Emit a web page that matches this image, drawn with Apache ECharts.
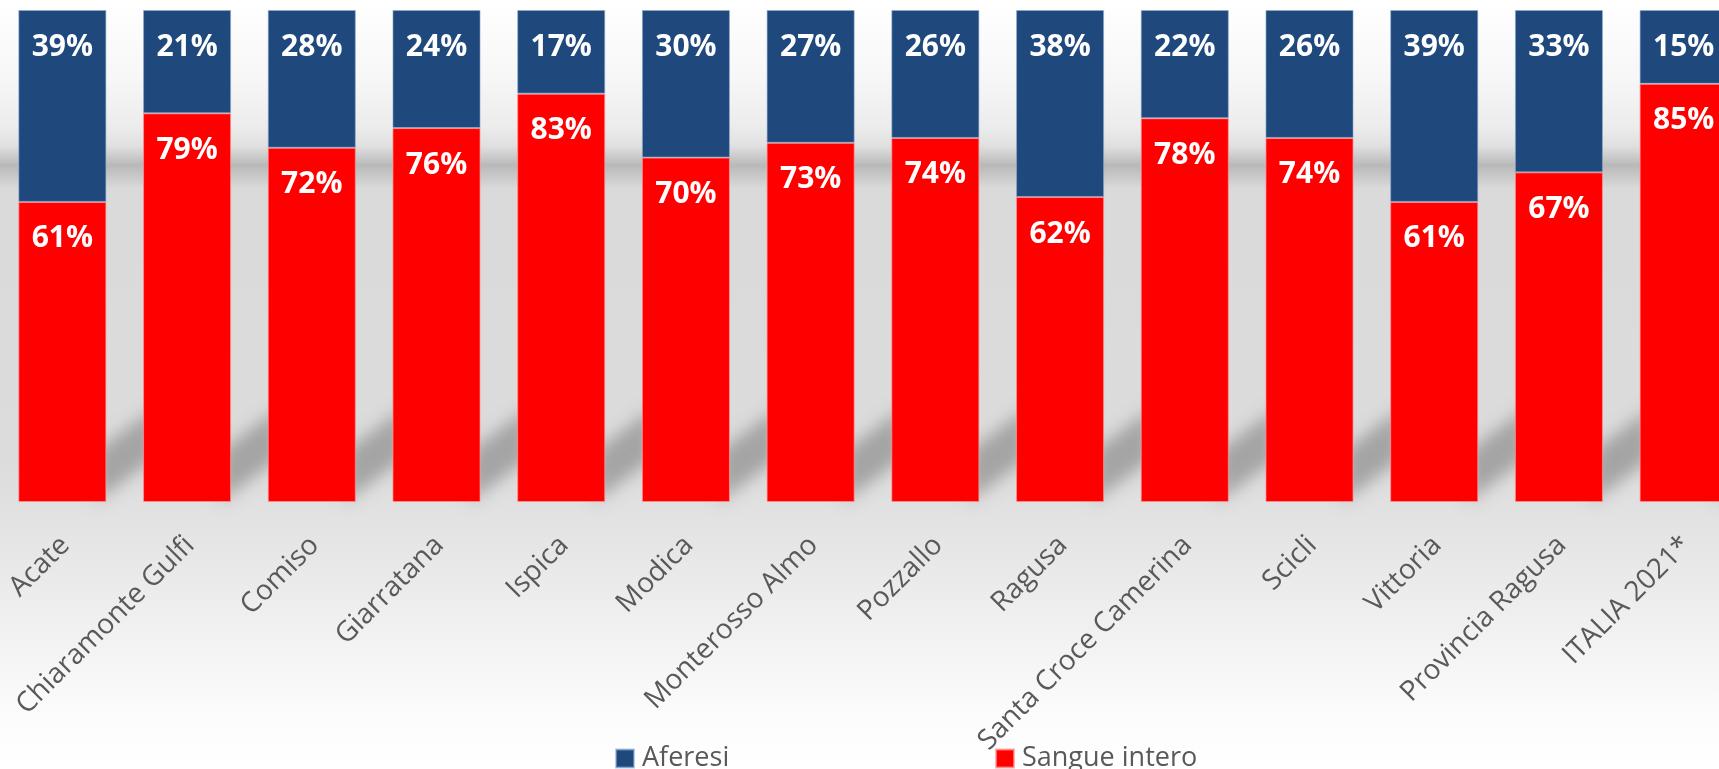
<!DOCTYPE html>
<html>
<head>
<meta charset="utf-8">
<script src="https://cdn.jsdelivr.net/npm/echarts@6/dist/echarts.min.js"></script>
<style>
  html, body { margin: 0; padding: 0; background: #fff; overflow: hidden; width: 1719px; height: 769px; }
  #chart { width: 1746px; height: 769px; }
</style>
</head>
<body>
<div id="chart"></div>
<script>
const categories = ['Acate', 'Chiaramonte Gulfi', 'Comiso', 'Giarratana', 'Ispica', 'Modica', 'Monterosso Almo', 'Pozzallo', 'Ragusa', 'Santa Croce Camerina', 'Scicli', 'Vittoria', 'Provincia Ragusa', 'ITALIA 2021*'];
const aferesi = [39, 21, 28, 24, 17, 30, 27, 26, 38, 22, 26, 39, 33, 15];
const sangueIntero = [61, 79, 72, 76, 83, 70, 73, 74, 62, 78, 74, 61, 67, 85];
const seriesNames = ['Aferesi', 'Sangue intero'];

const chart = echarts.init(document.getElementById('chart'), null, { renderer: 'canvas' });

const BAR_RATIO = 0.706;

const labelStyle = {
  show: true,
  position: 'insideTop',
  distance: 22,
  formatter: '{c}%',
  color: '#ffffff',
  fontFamily: 'Open Sans',
  fontWeight: 'bold',
  fontSize: 30,
  lineHeight: 30
};

const legendCommon = {
  top: 745,
  padding: 0,
  itemWidth: 18,
  itemHeight: 18,
  itemGap: 0,
  icon: 'rect',
  textStyle: { color: '#595959', fontFamily: 'Open Sans', fontSize: 27, padding: [0, 0, 0, 3] }
};

const option = {
  animation: false,
  backgroundColor: {
    type: 'linear', x: 0, y: 0, x2: 0, y2: 1,
    colorStops: [
      { offset: 0.00, color: '#ffffff' },
      { offset: 0.10, color: '#f7f7f7' },
      { offset: 0.165, color: '#ececec' },
      { offset: 0.19, color: '#e0e0e0' },
      { offset: 0.215, color: '#b9b9b9' },
      { offset: 0.245, color: '#dadada' },
      { offset: 0.30, color: '#dadada' },
      { offset: 0.60, color: '#dcdcdc' },
      { offset: 0.66, color: '#e1e1e1' },
      { offset: 0.80, color: '#efefef' },
      { offset: 0.92, color: '#fbfbfb' },
      { offset: 1.00, color: '#ffffff' }
    ]
  },
  grid: { left: 0, top: 10, right: 0, height: 492, containLabel: false, outerBoundsMode: 'none' },
  legend: [
    Object.assign({ data: [seriesNames[0]], left: 615 }, legendCommon),
    Object.assign({ data: [seriesNames[1]], left: 995 }, legendCommon)
  ],
  xAxis: {
    type: 'category',
    data: categories,
    axisLine: { show: false },
    axisTick: { show: false },
    axisLabel: {
      rotate: 45,
      interval: 0,
      margin: 22,
      verticalAlign: 'top',
      padding: [0, 10, 0, 0],
      color: '#595959',
      fontFamily: 'Open Sans',
      fontSize: 28
    }
  },
  yAxis: {
    type: 'value',
    min: 0,
    max: 100,
    show: false,
    splitLine: { show: false }
  },
  series: [
    {
      name: 'shadow',
      type: 'custom',
      silent: true,
      z: 0,
      clip: false,
      data: categories.map((c, i) => i),
      renderItem: function (params, api) {
        const idx = api.value(0);
        const p = api.coord([idx, 0]);
        const bw = api.size([1, 0])[0];
        const half = bw * BAR_RATIO / 2;
        const gap = bw - 2 * half;
        const xR = p[0] + half;
        const slope = 0.75;
        const yLow = p[1] - 8;
        const yUp = p[1] - 58;
        const x0 = xR - 10, x1 = xR + gap + 10;
        const SHIFT = 4000;
        const pts = [
          [x0 - SHIFT, yLow + 10 * slope],
          [x1 - SHIFT, yLow - (gap + 10) * slope],
          [x1 - SHIFT, yUp - (gap + 10) * slope],
          [x0 - SHIFT, yUp + 10 * slope]
        ];
        return {
          type: 'polygon',
          shape: { points: pts },
          style: {
            fill: '#000',
            shadowBlur: 16,
            shadowOffsetX: SHIFT,
            shadowColor: 'rgba(150,150,150,0.8)'
          }
        };
      }
    },
    {
      name: 'Sangue intero',
      type: 'bar',
      stack: 'tot',
      barWidth: (BAR_RATIO * 100) + '%',
      z: 2,
      itemStyle: { color: '#ff0000', borderColor: 'rgba(255,150,150,0.7)', borderWidth: 1 },
      label: labelStyle,
      data: sangueIntero
    },
    {
      name: 'Aferesi',
      type: 'bar',
      stack: 'tot',
      barWidth: (BAR_RATIO * 100) + '%',
      z: 2,
      itemStyle: { color: '#1f497d', borderColor: 'rgba(140,170,210,0.6)', borderWidth: 1 },
      label: labelStyle,
      data: aferesi
    }
  ]
};

chart.setOption(option);
</script>
</body>
</html>
